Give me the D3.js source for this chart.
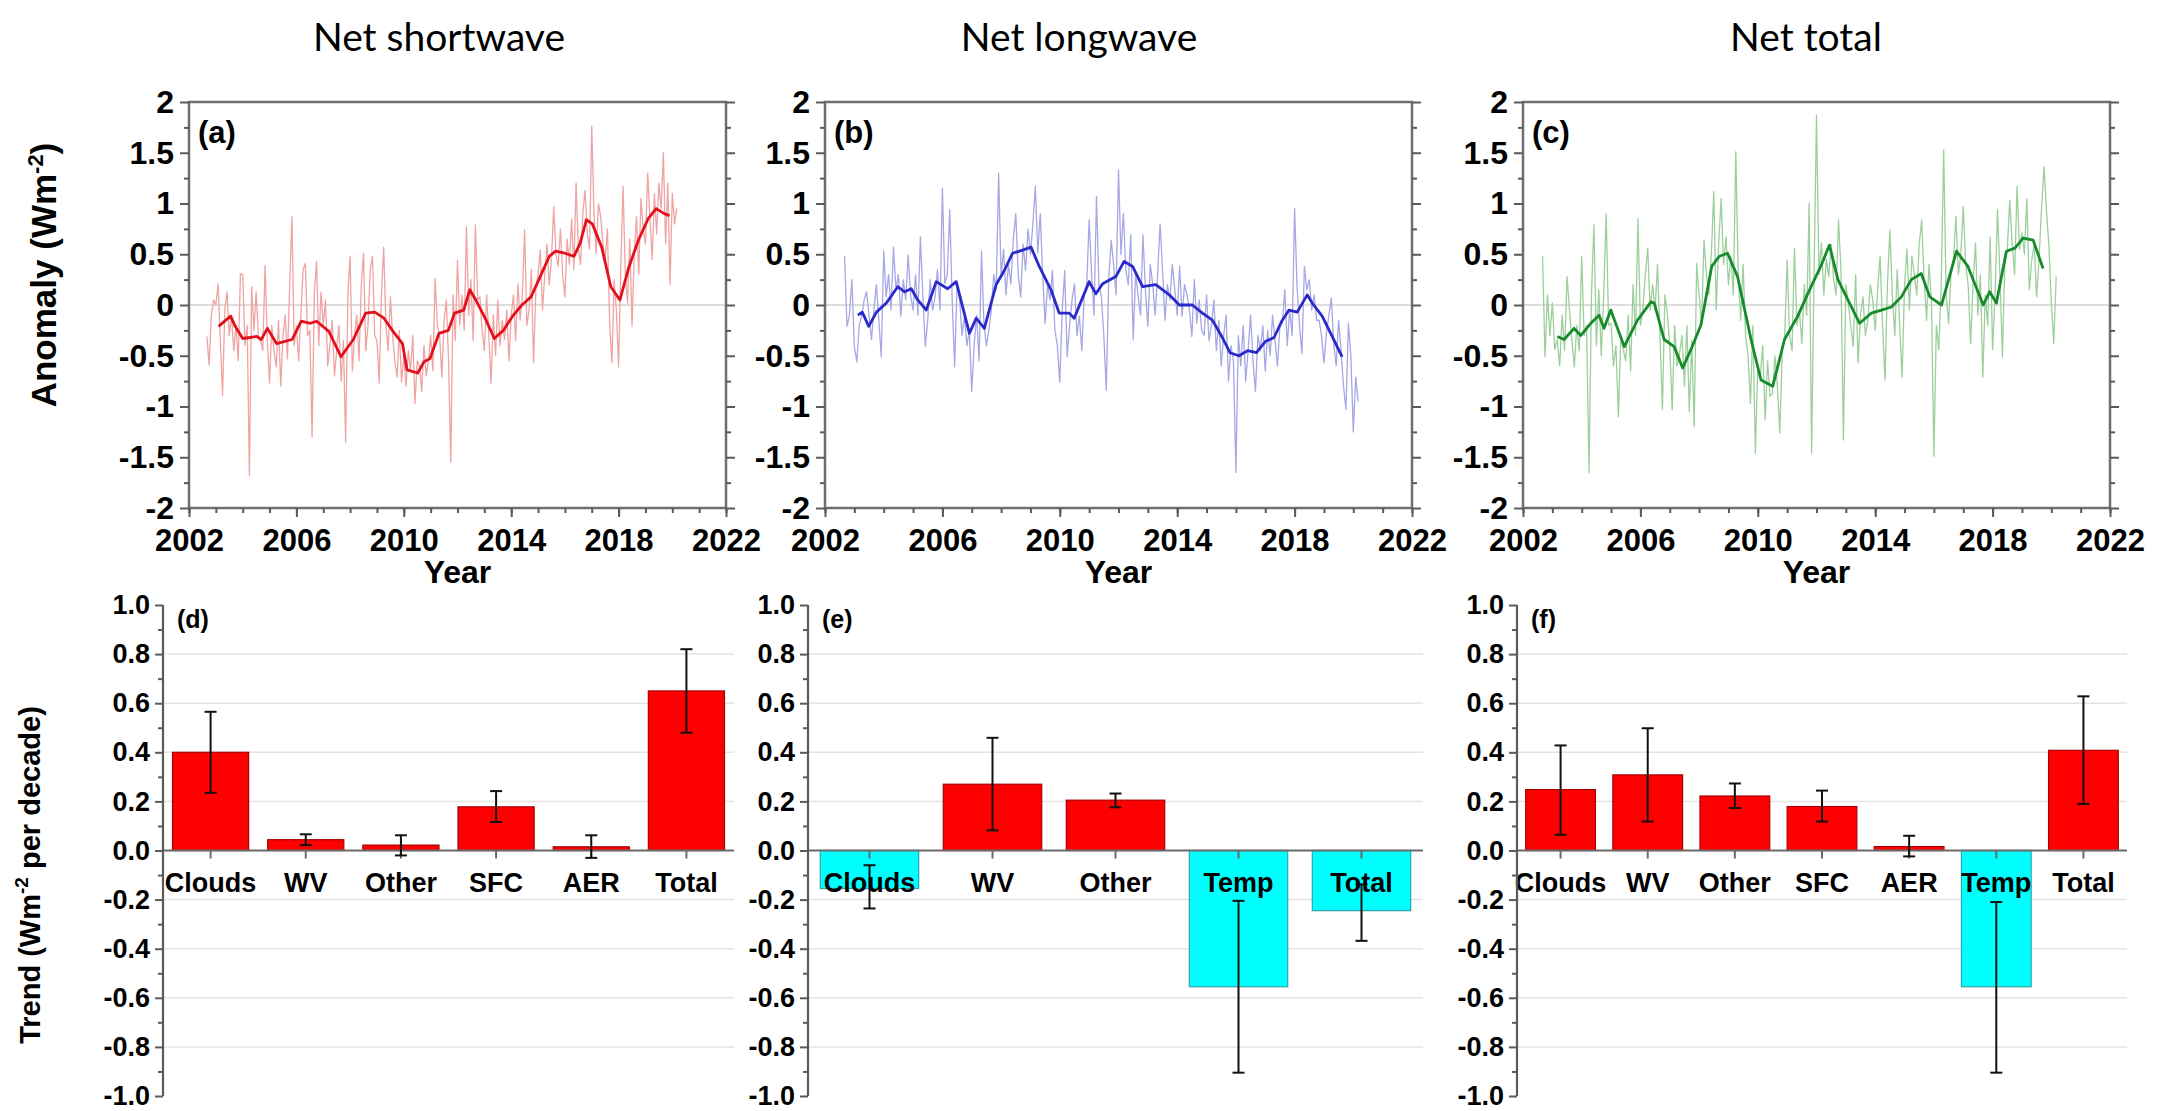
<!DOCTYPE html>
<html>
<head>
<meta charset="utf-8">
<script src="https://cdn.jsdelivr.net/npm/d3@7"></script>
<style>
  body { margin: 0; background: #fff; }
  text { font-family: "Liberation Sans", Arial, sans-serif; }
</style>
</head>
<body>
<svg id="chart" width="2167" height="1111"></svg>
<script>
// monthly anomalies start Sep 2002
var monthStart = 2002 + 8 / 12;

var swMonthly = [
  -0.31, -0.59, -0.10, 0.05,
  0.00, 0.21, -0.35, -0.89, -0.05, 0.13, -0.30, -0.10, -0.45, -0.20, -0.55, 0.31,
  0.30, -0.40, -0.20, -1.68, 0.18, -0.25, 0.13, -0.30, -0.35, -0.45, 0.39, -0.35,
  -0.77, -0.20, -0.45, -0.61, -0.15, -0.80, -0.30, -0.10, -0.53, 0.20, 0.87, -0.40,
  -0.21, -0.55, -0.10, 0.35, 0.41, -0.30, -0.25, -1.30, 0.10, 0.43, -0.40, 0.13,
  -0.20, 0.05, -0.60, -0.38, -0.15, -0.70, -0.45, -0.20, -0.75, -0.35, -1.35, 0.10,
  0.48, -0.65, -0.30, -0.10, -0.55, 0.20, 0.51, -0.45, -0.20, 0.35, 0.48, -0.30,
  -0.35, -0.77, 0.10, 0.57, -0.20, -0.45, 0.08, -0.30, -0.55, -0.71, -0.25, -0.76,
  -0.50, -0.80, -0.45, -0.65, -0.30, -0.97, -0.55, -0.60, -0.85, -0.40, -0.70, -0.55,
  -0.30, -0.65, 0.26, -0.20, -0.30, -0.71, -0.15, 0.05, -0.55, -1.55, 0.10, -0.35,
  0.44, -0.20, 0.10, -0.25, 0.77, -0.10, 0.25, -0.35, 0.79, 0.05, 0.08, -0.25,
  -0.45, 0.10, -0.30, -0.77, -0.10, -0.50, 0.05, -0.40, -0.15, -0.34, -0.05, -0.55,
  -0.10, 0.10, -0.35, 0.21, -0.15, 0.10, 0.74, -0.20, -0.05, 0.35, -0.57, 0.15,
  0.30, 0.54, -0.05, 0.30, 0.60, 0.20, 0.45, 0.97, 0.50, 0.38, 0.75, 0.30,
  0.08, 0.65, 0.40, 0.85, 0.35, 1.20, 0.55, 0.40, 0.90, 1.13, 0.70, 0.55,
  1.76, 0.90, 0.51, 1.00, 0.87, 0.60, 0.45, 0.75, -0.18, -0.57, 0.25, -0.05,
  -0.61, 0.40, 1.17, 0.30, 0.02, 0.65, -0.21, 0.50, 0.87, 0.30, 1.05, 0.75,
  0.60, 1.30, 0.85, 0.45, 1.10, 0.70, 1.20, 0.95, 1.50, 0.60, 1.20, 0.20,
  1.10, 0.80, 0.95
];
var swSmoothYears = [2003.10, 2003.55, 2003.72, 2004.00, 2004.52, 2004.69, 2004.92, 2005.26, 2005.84, 2006.18,
  2006.52, 2006.75, 2007.21, 2007.66, 2008.12, 2008.58, 2008.92, 2009.26, 2009.60, 2009.95, 2010.12, 2010.52,
  2010.75, 2010.97, 2011.31, 2011.66, 2011.89, 2012.23, 2012.46, 2012.68, 2013.03, 2013.37, 2013.71, 2014.05,
  2014.40, 2014.74, 2015.08, 2015.42, 2015.65, 2015.99, 2016.34, 2016.57, 2016.80, 2017.02, 2017.37, 2017.71,
  2018.05, 2018.39, 2018.74, 2019.10, 2019.40, 2019.70, 2019.90];
var swSmooth = [-0.21, -0.11, -0.21, -0.33, -0.31, -0.34, -0.23, -0.38, -0.34, -0.16,
  -0.18, -0.16, -0.26, -0.51, -0.34, -0.08, -0.07, -0.13, -0.26, -0.38, -0.64, -0.67,
  -0.56, -0.53, -0.28, -0.25, -0.08, -0.05, 0.15, 0.05, -0.13, -0.33, -0.25, -0.11,
  0.00, 0.08, 0.28, 0.48, 0.53, 0.51, 0.48, 0.61, 0.84, 0.80, 0.57, 0.18,
  0.05, 0.38, 0.64, 0.85, 0.95, 0.90, 0.88];

var lwMonthly = [
  0.48, -0.21, -0.10, 0.25,
  -0.41, -0.56, -0.20, -0.11, 0.05, 0.13, -0.10, -0.34, -0.05, 0.20, -0.15, -0.51,
  0.53, 0.08, 0.30, -0.05, 0.57, 0.15, 0.30, -0.11, 0.25, 0.05, 0.49, 0.10,
  -0.05, 0.30, -0.10, 0.67, 0.10, -0.41, -0.15, 0.25, -0.05, 0.08, 0.35, -0.05,
  1.15, 0.21, 0.30, 0.94, 0.05, -0.61, 0.20, 0.08, -0.30, -0.11, -0.40, -0.25,
  -0.85, -0.38, -0.10, -0.55, 0.53, -0.20, -0.40, -0.25, -0.05, 0.30, 0.15, 1.30,
  0.28, 0.55, 0.10, 0.40, 0.21, 0.65, 0.90, 0.30, 0.08, 0.60, 0.34, 0.75,
  0.50, 0.80, 1.17, 0.51, 0.90, 0.30, -0.18, 0.20, 0.05, 0.34, -0.25, -0.40,
  -0.76, -0.05, 0.34, -0.51, -0.20, 0.05, 0.21, -0.30, -0.11, -0.45, 0.10, 0.20,
  0.84, 0.30, -0.10, 1.07, 0.20, 0.08, -0.30, -0.84, 0.25, 0.64, 0.40, 0.10,
  1.33, 0.50, 0.90, 0.35, 0.20, 0.69, -0.34, 0.30, 0.10, -0.10, 0.69, 0.15,
  -0.21, 0.40, 0.20, -0.10, 0.30, 0.80, 0.35, -0.15, 0.20, 0.05, 0.40, 0.15,
  -0.10, 0.38, -0.11, 0.20, 0.10, -0.05, -0.31, 0.25, -0.18, 0.05, -0.25, -0.30,
  0.10, -0.35, -0.20, 0.05, -0.45, -0.15, -0.60, -0.30, -0.10, -0.75, -0.40, -0.55,
  -1.65, -0.30, -0.60, -0.20, -0.75, -0.45, -0.10, -0.55, -0.85, -0.30, -0.45, -0.20,
  -0.65, -0.25, -0.50, -0.10, -0.35, -0.60, -0.20, -0.18, 0.15, -0.40, -0.05, -0.30,
  0.95, 0.18, -0.20, -0.48, 0.38, 0.15, 0.25, -0.05, 0.10, -0.15, -0.15, -0.30,
  -0.57, -0.28, -0.10, 0.07, -0.38, -0.60, -0.15, -0.45, -0.80, -1.03, -0.18, -0.50,
  -1.25, -0.71, -0.95
];
var lwSmoothYears = [2003.12, 2003.27, 2003.49, 2003.75, 2004.09, 2004.48, 2004.71, 2004.94, 2005.16, 2005.45,
  2005.79, 2006.18, 2006.47, 2006.92, 2007.15, 2007.43, 2007.83, 2008.11, 2008.39, 2008.73, 2009.02, 2009.30,
  2009.70, 2009.98, 2010.32, 2010.49, 2011.00, 2011.23, 2011.46, 2011.91, 2012.19, 2012.48, 2012.82, 2013.27,
  2013.73, 2014.07, 2014.52, 2014.86, 2015.20, 2015.50, 2015.80, 2016.10, 2016.40, 2016.70, 2017.00, 2017.30,
  2017.58, 2017.81, 2018.09, 2018.43, 2018.60, 2018.94, 2019.28, 2019.62];
var lwSmooth = [-0.10, -0.07, -0.21, -0.07, 0.02, 0.18, 0.13, 0.16, 0.05, -0.05,
  0.23, 0.16, 0.23, -0.28, -0.13, -0.23, 0.20, 0.34, 0.51, 0.54, 0.57, 0.38,
  0.15, -0.08, -0.08, -0.13, 0.23, 0.11, 0.21, 0.28, 0.43, 0.38, 0.18, 0.20,
  0.10, 0.00, 0.00, -0.08, -0.15, -0.30, -0.47, -0.50, -0.45, -0.47, -0.36, -0.32,
  -0.15, -0.05, -0.07, 0.10, 0.02, -0.11, -0.31, -0.51];

var netMonthly = [
  0.48, -0.51, 0.10, -0.30,
  0.02, -0.44, -0.34, -0.60, -0.10, -0.45, 0.28, -0.05, -0.35, -0.61, -0.20, -0.45,
  0.48, -0.30, -0.20, -1.65, 0.10, 0.79, -0.40, 0.15, -0.50, 0.10, 0.90, -0.20,
  -0.18, -0.60, -0.40, -1.10, -0.30, -0.44, -0.55, -0.10, -0.65, 0.20, -0.30, 0.85,
  -0.20, -0.05, 0.30, 0.56, -0.05, 0.20, -0.05, 0.40, -0.30, -1.03, 0.10, -0.08,
  -0.40, -1.03, -0.20, -0.60, -0.48, -0.30, -0.80, -0.20, -1.05, -0.35, -1.20, 0.41,
  0.10, -0.20, 0.64, 0.30, 0.10, 0.50, 1.12, -0.05, 0.60, 1.05, 0.40, 0.67,
  0.20, 0.48, 0.10, 1.51, 0.30, -0.15, 0.40, -0.30, -0.50, -0.97, -0.20, -1.46,
  -0.60, -0.71, -0.40, -1.13, -0.55, -0.90, -0.87, -0.50, -0.80, -1.26, -0.45, -0.30,
  0.44, -0.30, -0.45, 0.56, -0.20, -0.05, -0.38, 0.20, -0.10, 1.00, -1.46, 0.30,
  1.87, 0.30, 0.61, 0.10, 0.45, 0.28, 0.60, 0.25, 0.10, 0.84, 0.35, -1.33,
  0.20, 0.02, -0.20, -0.41, 0.30, -0.57, -0.10, 0.08, -0.30, -0.15, 0.20, 0.05,
  -0.25, 0.15, 0.48, -0.20, -0.74, 0.20, 0.74, 0.10, -0.30, 0.35, -0.20, -0.71,
  0.20, 0.55, -0.05, 0.48, 0.30, 0.10, 0.60, 0.84, 0.25, -0.15, 0.40, 0.05,
  -1.49, -0.20, -0.44, 0.20, 1.53, 0.10, -0.18, 0.30, 0.45, 0.87, 0.30, 0.50,
  0.97, 0.40, 0.20, -0.38, 0.20, 0.61, -0.10, 0.30, -0.71, 0.10, -0.20, 0.67,
  -0.44, 0.10, 0.94, 0.30, -0.51, 0.40, 0.54, 1.03, 0.60, 0.30, 1.17, 0.55,
  0.71, 0.50, 1.05, 0.15, 0.44, 0.60, 0.08, 0.45, 0.95, 1.36, 0.94, 0.60,
  0.02, -0.38, 0.28
];
var netSmoothYears = [2003.17, 2003.40, 2003.74, 2003.97, 2004.31, 2004.59, 2004.76, 2004.99, 2005.45, 2005.90,
  2006.36, 2006.47, 2006.81, 2007.15, 2007.44, 2007.72, 2008.06, 2008.43, 2008.69, 2008.97, 2009.31, 2009.77,
  2010.11, 2010.51, 2010.91, 2011.36, 2011.70, 2012.16, 2012.44, 2012.73, 2013.07, 2013.47, 2013.87, 2014.21,
  2014.55, 2014.89, 2015.23, 2015.57, 2015.86, 2016.26, 2016.77, 2017.16, 2017.68, 2017.90, 2018.13, 2018.47,
  2018.76, 2019.04, 2019.38, 2019.72];
var netSmooth = [-0.31, -0.34, -0.23, -0.30, -0.18, -0.10, -0.23, -0.05, -0.41, -0.15,
  0.03, 0.02, -0.34, -0.41, -0.62, -0.44, -0.20, 0.38, 0.48, 0.51, 0.28, -0.34,
  -0.74, -0.80, -0.34, -0.11, 0.11, 0.39, 0.59, 0.25, 0.05, -0.18, -0.08, -0.05,
  -0.02, 0.08, 0.25, 0.31, 0.08, 0.00, 0.53, 0.38, 0.00, 0.13, 0.02, 0.53,
  0.56, 0.66, 0.64, 0.36];

var anomalyTicks = [-2, -1.5, -1, -0.5, 0, 0.5, 1, 1.5, 2];
var anomalyTickLabels = ["-2", "-1.5", "-1", "-0.5", "0", "0.5", "1", "1.5", "2"];
var yearTicks = [2002, 2006, 2010, 2014, 2018, 2022];

// trend bars (d), (e), (f)
var swCats = ["Clouds", "WV", "Other", "SFC", "AER", "Total"];
var swTrend = [0.40, 0.044, 0.022, 0.178, 0.015, 0.65];
var swErrLo = [0.235, 0.022, -0.02, 0.116, -0.03, 0.48];
var swErrHi = [0.565, 0.066, 0.062, 0.242, 0.062, 0.82];

var lwCats = ["Clouds", "WV", "Other", "Temp", "Total"];
var lwTrend = [-0.155, 0.27, 0.205, -0.555, -0.245];
var lwErrLo = [-0.236, 0.082, 0.176, -0.905, -0.368];
var lwErrHi = [-0.06, 0.459, 0.232, -0.205, -0.138];

var netCats = ["Clouds", "WV", "Other", "SFC", "AER", "Temp", "Total"];
var netTrend = [0.248, 0.308, 0.222, 0.179, 0.016, -0.555, 0.408];
var netErrLo = [0.064, 0.118, 0.173, 0.118, -0.024, -0.905, 0.19];
var netErrHi = [0.428, 0.498, 0.273, 0.244, 0.06, -0.21, 0.628];

var trendTicks = [-1, -0.8, -0.6, -0.4, -0.2, 0, 0.2, 0.4, 0.6, 0.8, 1];
var trendTickLabels = ["-1.0", "-0.8", "-0.6", "-0.4", "-0.2", "0.0", "0.2", "0.4", "0.6", "0.8", "1.0"];

var svg = d3.select("#chart");
var axisColor = "#5a5a5a";

function styleAxis(g, size) {
  g.select(".domain").remove();
  g.selectAll("line").attr("stroke", axisColor).attr("stroke-width", 2);
  g.attr("font-size", size).attr("font-weight", "bold")
    .attr("font-family", '"Liberation Sans", Arial, sans-serif');
  g.selectAll("text").attr("fill", "#000");
}

function seriesPanel(p) {
  var x = d3.scaleLinear().domain([2002, 2022]).range([p.x0, p.x1]);
  var y = d3.scaleLinear().domain([-2, 2]).range([508, 102]);
  var g = svg.append("g");

  g.append("line")
    .attr("x1", p.x0).attr("x2", p.x1)
    .attr("y1", y(0)).attr("y2", y(0))
    .attr("stroke", "#d2d2d2").attr("stroke-width", 1.3);

  var line = d3.line()
    .x(function(d) { return x(d[0]); })
    .y(function(d) { return y(d[1]); });

  var monthly = p.monthly.map(function(v, i) { return [monthStart + i / 12, v]; });
  g.append("path")
    .datum(monthly)
    .attr("fill", "none")
    .attr("stroke", p.thin)
    .attr("stroke-width", 1.3)
    .attr("stroke-linejoin", "round")
    .attr("d", line);

  var smooth = p.smoothYears.map(function(t, i) { return [t, p.smooth[i]]; });
  g.append("path")
    .datum(smooth)
    .attr("fill", "none")
    .attr("stroke", p.thick)
    .attr("stroke-width", 2.8)
    .attr("stroke-linejoin", "round")
    .attr("d", line);

  // frame
  g.append("rect")
    .attr("x", p.x0).attr("y", 102)
    .attr("width", p.x1 - p.x0).attr("height", 406)
    .attr("fill", "none").attr("stroke", "#6e6e6e").attr("stroke-width", 2.5);

  var minorY = d3.range(-1.75, 2, 0.5);
  var minorX = d3.range(2002, 2023, 1);

  g.append("g").attr("transform", "translate(" + p.x0 + ",0)")
    .call(d3.axisLeft(y).tickValues(minorY).tickSize(5).tickFormat(""))
    .call(styleAxis, 32);
  g.append("g").attr("transform", "translate(" + p.x0 + ",0)")
    .call(d3.axisLeft(y).tickValues(anomalyTicks).tickSize(9).tickPadding(6)
      .tickFormat(function(d, i) { return anomalyTickLabels[i]; }))
    .call(styleAxis, 32);

  g.append("g").attr("transform", "translate(" + p.x1 + ",0)")
    .call(d3.axisRight(y).tickValues(minorY).tickSize(5).tickFormat(""))
    .call(styleAxis, 32);
  g.append("g").attr("transform", "translate(" + p.x1 + ",0)")
    .call(d3.axisRight(y).tickValues(anomalyTicks).tickSize(9).tickFormat(""))
    .call(styleAxis, 32);

  g.append("g").attr("transform", "translate(0,508)")
    .call(d3.axisBottom(x).tickValues(minorX).tickSize(5).tickFormat(""))
    .call(styleAxis, 32);
  g.append("g").attr("transform", "translate(0,508)")
    .call(d3.axisBottom(x).tickValues(yearTicks).tickSize(9).tickPadding(12)
      .tickFormat(function(d) { return String(d); }))
    .call(styleAxis, 31);

  g.append("text")
    .attr("x", (p.x0 + p.x1) / 2).attr("y", 583)
    .attr("text-anchor", "middle")
    .attr("font-size", 32).attr("font-weight", "bold")
    .text("Year");

  g.append("text")
    .attr("x", p.x0 + 9).attr("y", 143)
    .attr("font-size", 31).attr("font-weight", "bold")
    .text(p.tag);

  svg.append("text")
    .attr("x", p.titleX).attr("y", 51)
    .attr("text-anchor", "middle")
    .style("font-family", "Lato, 'Open Sans', sans-serif")
    .attr("font-size", 39)
    .text(p.title);
}

function trendPanel(p) {
  var x = d3.scaleBand().domain(p.cats).range([p.x0, p.x1])
    .paddingInner(0.2).paddingOuter(0.1);
  var y = d3.scaleLinear().domain([-1, 1]).range([1096, 605]);
  var g = svg.append("g");

  g.selectAll("line.grid")
    .data([-0.8, -0.6, -0.4, -0.2, 0.2, 0.4, 0.6, 0.8])
    .enter().append("line")
      .attr("x1", p.x0).attr("x2", p.x1)
      .attr("y1", function(d) { return y(d); })
      .attr("y2", function(d) { return y(d); })
      .attr("stroke", "#e4e4e4").attr("stroke-width", 1.5);

  g.selectAll("rect.bar")
    .data(p.vals)
    .enter().append("rect")
      .attr("x", function(d, i) { return x(p.cats[i]); })
      .attr("width", x.bandwidth())
      .attr("y", function(d) { return y(Math.max(0, d)); })
      .attr("height", function(d) { return Math.abs(y(d) - y(0)); })
      .attr("fill", function(d) { return d < 0 ? "#00ffff" : "#ff0000"; })
      .attr("stroke", function(d) { return d < 0 ? "#2aa6a6" : "#a80000"; })
      .attr("stroke-width", 1.2);

  // zero line with category ticks
  g.append("line")
    .attr("x1", p.x0).attr("x2", p.x1)
    .attr("y1", y(0)).attr("y2", y(0))
    .attr("stroke", "#6a6a6a").attr("stroke-width", 2.2);
  g.selectAll("line.ctick")
    .data(p.cats)
    .enter().append("line")
      .attr("x1", function(d) { return x(d) + x.bandwidth() / 2; })
      .attr("x2", function(d) { return x(d) + x.bandwidth() / 2; })
      .attr("y1", y(0)).attr("y2", y(0) + 8)
      .attr("stroke", "#6a6a6a").attr("stroke-width", 2);

  // error bars
  var eb = g.selectAll("g.err")
    .data(p.cats)
    .enter().append("g");
  eb.append("line")
    .attr("x1", function(d) { return x(d) + x.bandwidth() / 2; })
    .attr("x2", function(d) { return x(d) + x.bandwidth() / 2; })
    .attr("y1", function(d, i) { return y(p.lo[i]); })
    .attr("y2", function(d, i) { return y(p.hi[i]); })
    .attr("stroke", "#111").attr("stroke-width", 2);
  [p.lo, p.hi].forEach(function(arr) {
    eb.append("line")
      .attr("x1", function(d) { return x(d) + x.bandwidth() / 2 - 6; })
      .attr("x2", function(d) { return x(d) + x.bandwidth() / 2 + 6; })
      .attr("y1", function(d, i) { return y(arr[i]); })
      .attr("y2", function(d, i) { return y(arr[i]); })
      .attr("stroke", "#111").attr("stroke-width", 2);
  });

  g.selectAll("text.cat")
    .data(p.cats)
    .enter().append("text")
      .attr("x", function(d) { return x(d) + x.bandwidth() / 2; })
      .attr("y", 892)
      .attr("text-anchor", "middle")
      .attr("font-size", 27).attr("font-weight", "bold")
      .text(function(d) { return d; });

  // y axis
  g.append("line")
    .attr("x1", p.x0).attr("x2", p.x0).attr("y1", y(-1)).attr("y2", y(1))
    .attr("stroke", axisColor).attr("stroke-width", 2.2);
  g.append("g").attr("transform", "translate(" + p.x0 + ",0)")
    .call(d3.axisLeft(y).tickValues(d3.range(-0.9, 1, 0.2)).tickSize(5).tickFormat(""))
    .call(styleAxis, 27);
  g.append("g").attr("transform", "translate(" + p.x0 + ",0)")
    .call(d3.axisLeft(y).tickValues(trendTicks).tickSize(8).tickPadding(5)
      .tickFormat(function(d, i) { return trendTickLabels[i]; }))
    .call(styleAxis, 27);

  g.append("text")
    .attr("x", p.x0 + 14).attr("y", 628)
    .attr("font-size", 25).attr("font-weight", "bold")
    .text(p.tag);
}

seriesPanel({ x0: 189, x1: 726, monthly: swMonthly, smoothYears: swSmoothYears, smooth: swSmooth,
  thin: "#f0a3a3", thick: "#e3101c", tag: "(a)", title: "Net shortwave", titleX: 439 });
seriesPanel({ x0: 825, x1: 1412, monthly: lwMonthly, smoothYears: lwSmoothYears, smooth: lwSmooth,
  thin: "#a7a7e6", thick: "#2a2acb", tag: "(b)", title: "Net longwave", titleX: 1079 });
seriesPanel({ x0: 1523, x1: 2110, monthly: netMonthly, smoothYears: netSmoothYears, smooth: netSmooth,
  thin: "#9ccf9c", thick: "#178a2b", tag: "(c)", title: "Net total", titleX: 1806 });

trendPanel({ x0: 163, x1: 734, cats: swCats, vals: swTrend, lo: swErrLo, hi: swErrHi, tag: "(d)" });
trendPanel({ x0: 808, x1: 1423, cats: lwCats, vals: lwTrend, lo: lwErrLo, hi: lwErrHi, tag: "(e)" });
trendPanel({ x0: 1517, x1: 2127, cats: netCats, vals: netTrend, lo: netErrLo, hi: netErrHi, tag: "(f)" });

// y axis titles
var anomalyTitle = svg.append("text")
  .attr("transform", "translate(56,275) rotate(-90)")
  .attr("text-anchor", "middle")
  .attr("font-size", 35).attr("font-weight", "bold");
anomalyTitle.append("tspan").text("Anomaly (Wm");
anomalyTitle.append("tspan").attr("font-size", 22).attr("dy", -13).text("-2");
anomalyTitle.append("tspan").attr("dy", 13).text(")");

var trendTitle = svg.append("text")
  .attr("transform", "translate(40,875) rotate(-90)")
  .attr("text-anchor", "middle")
  .attr("font-size", 29).attr("font-weight", "bold");
trendTitle.append("tspan").text("Trend (Wm");
trendTitle.append("tspan").attr("font-size", 19).attr("dy", -12).text("-2");
trendTitle.append("tspan").attr("dy", 12).text(" per decade)");
</script>
</body>
</html>
